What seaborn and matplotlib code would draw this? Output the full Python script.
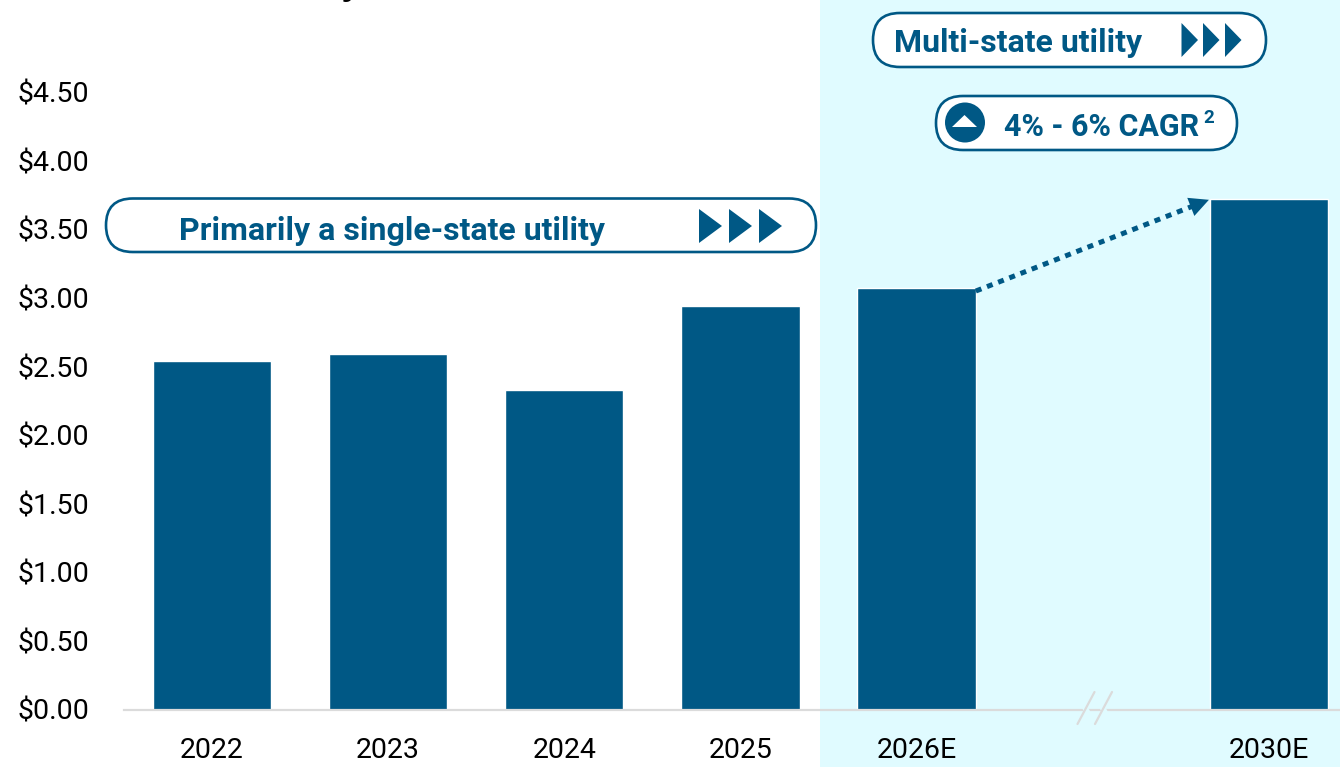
import matplotlib
matplotlib.use('Agg')
import numpy as np
import pandas as pd
import seaborn as sns
import matplotlib.pyplot as plt
from matplotlib.patches import FancyBboxPatch, Polygon, Circle, Rectangle
from matplotlib.transforms import Affine2D

# values
years = ['2022', '2023', '2024', '2025', '2026E', ' ', '2030E']
eps = [2.54, 2.59, 2.33, 2.94, 3.07, np.nan, 3.72]
y_ticks = [0, 0.5, 1, 1.5, 2, 2.5, 3, 3.5, 4, 4.5]
y_labels = ['$0.00', '$0.50', '$1.00', '$1.50', '$2.00', '$2.50', '$3.00', '$3.50', '$4.00', '$4.50']

BLUE = '#005885'
BAND = '#e0fbff'
AXIS = '#dbdbdb'
W, H = 1340, 767
BAR_W = 0.672

sns.set_theme(style='white')
plt.rcParams['font.family'] = ['Roboto', 'DejaVu Sans']
plt.rcParams['text.parse_math'] = False

fig = plt.figure(figsize=(W / 100, H / 100), dpi=100, facecolor='white')

# pixel coordinates, y going down like in the slide
px = Affine2D().scale(1, -1).translate(0, H)

fig.patches.append(Rectangle((820, 0), W - 820, H, transform=px, facecolor=BAND, edgecolor='none', zorder=-1))

ax = fig.add_axes([124 / W, (H - 709.5) / H, (W - 124) / W, 709.5 / H])
ax.patch.set_alpha(0)

df = pd.DataFrame({'year': years, 'eps': eps})
sns.barplot(data=df, x='year', y='eps', order=years, color=BLUE, saturation=1, width=BAR_W, ax=ax)

step = 176.2
ax.set_xlim((124 - 211.8) / step, (W - 211.8) / step)
ax.set_ylim(0, 709.5 / 137.2)
ax.set_xlabel('')
ax.set_ylabel('')
ax.set_yticks(y_ticks)
ax.set_yticklabels(y_labels, fontsize=20.5, color='black')
ax.tick_params(axis='y', length=0, pad=25)
ax.tick_params(axis='x', length=0, pad=20, labelsize=20.5, labelcolor='black')
sns.despine(ax=ax, left=True, top=True, right=True)
ax.spines['bottom'].set_color(AXIS)
ax.spines['bottom'].set_linewidth(1.6)

# dotted growth arrow between the two estimate bars
start = (4 + BAR_W / 2, eps[4] - 0.02)
end = (6 - BAR_W / 2 - 0.005, eps[6] - 0.005)
neck = (start[0] + 0.93 * (end[0] - start[0]), start[1] + 0.93 * (end[1] - start[1]))
ax.plot([start[0], neck[0]], [start[1], neck[1]], color=BLUE, lw=3.6, linestyle=(0, (1.2, 1.2)))
ax.annotate('', xy=end, xytext=neck,
            arrowprops=dict(arrowstyle='-|>,head_length=0.7,head_width=0.35', color=BLUE, lw=0,
                            mutation_scale=20, shrinkA=0, shrinkB=0))


def pill(x0, y0, x1, y1):
    h = y1 - y0
    fig.patches.append(FancyBboxPatch((x0 + h / 2, y0 + h / 2), x1 - x0 - h, 0,
                                      boxstyle=f'round,pad=0,rounding_size={h / 2}', transform=px,
                                      facecolor='white', edgecolor=BLUE, linewidth=1.9, zorder=5))
    fig.patches[-1].set_boxstyle('round', pad=h / 2, rounding_size=h / 2)


def arrows(xs, w, y0, y1):
    for x in xs:
        fig.patches.append(Polygon([(x, y0), (x + w, (y0 + y1) / 2), (x, y1)], closed=True,
                                   transform=px, facecolor=BLUE, edgecolor='none', zorder=6))


def label(x, y, s, size=23):
    fig.text(x, y, s, transform=px, color=BLUE, fontsize=size, fontweight='bold',
             ha='left', va='center', zorder=7)


pill(106, 198.5, 816, 252)
label(179, 231, 'Primarily a single-state utility')
arrows([699, 729, 759], 23, 209, 243)

pill(873, 13, 1266, 67)
label(894, 43, 'Multi-state utility')
arrows([1181.5, 1203, 1225], 16.5, 23, 57)

pill(936, 96, 1237, 150)
fig.patches.append(Circle((965, 122.5), 20, transform=px, facecolor=BLUE, edgecolor='none', zorder=6))
fig.patches.append(Polygon([(952, 127), (964.5, 115), (977, 127)], closed=True, transform=px,
                           facecolor='white', edgecolor='none', zorder=7))
label(1004, 127, '4% - 6% CAGR', size=22)
label(1203, 118, '2', size=13.5)

# axis break
for x in (1086, 1103.5):
    fig.add_artist(plt.Line2D([x - 5, x + 5], [700, 719], transform=px, color=BAND, lw=4, zorder=8))
    fig.add_artist(plt.Line2D([x + 8.5, x - 8.5], [692, 724], transform=px, color=AXIS, lw=1.6, zorder=9))

# bottom of the cut-off heading
fig.text(351, -7, 'y', transform=px, color='black', fontsize=30, fontweight='bold', ha='center', va='baseline')

fig.savefig('out.png', dpi=100, facecolor='white')
